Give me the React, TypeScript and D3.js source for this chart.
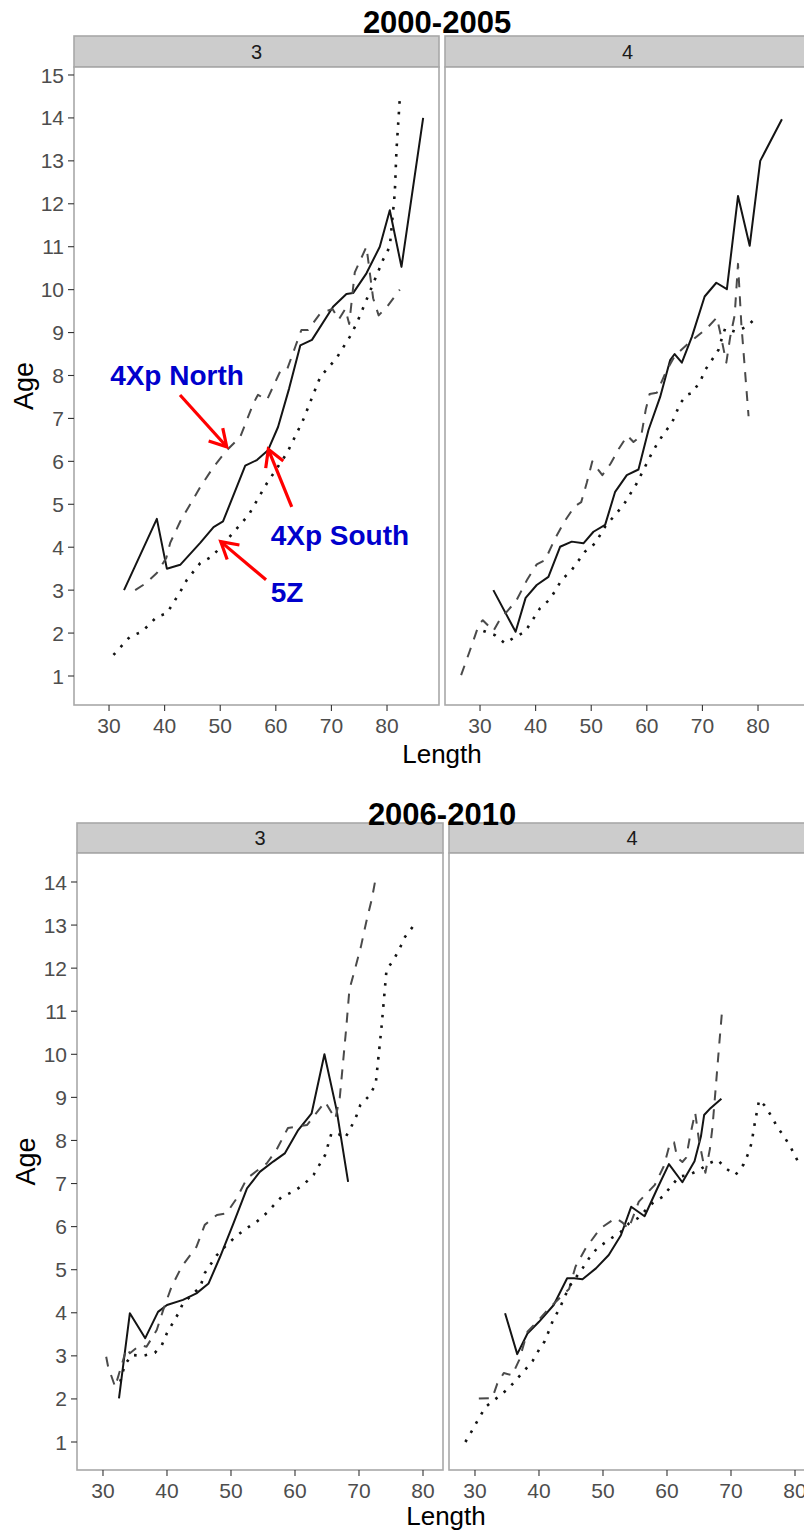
import React from "react";
import * as d3 from "d3";

type Pt = [number, number]; // [length, age]

// ---- data: mean age at length, by period, area and stock ----
const periods = ["2000-2005", "2006-2010"];
const areas = ["3", "4"];
const stocks = ["4Xp South", "4Xp North", "5Z"];

// 2000-2005, area 3
const south0005a3: Pt[] = [[32.7,3.0],[38.6,4.66],[40.4,3.5],[42.8,3.59],[46.4,4.1],[48.8,4.47],[50.5,4.6],[54.5,5.9],[56.6,6.03],[58.6,6.26],[60.4,6.8],[62.4,7.7],[64.4,8.7],[66.5,8.83],[70.3,9.6],[72.7,9.9],[73.9,9.92],[76.3,10.38],[78.7,11.0],[80.5,11.85],[82.6,10.53],[86.5,14.0]];
const north0005a3: Pt[] = [[34.7,3.0],[36.5,3.15],[38.6,3.4],[40.3,3.75],[41,4.1],[42.8,4.6],[46.4,5.4],[48.8,5.87],[51.2,6.26],[53.6,6.57],[56,7.36],[56.8,7.55],[58.4,7.43],[60.8,8.1],[62,8.13],[63.5,8.67],[64.6,9.06],[65.8,9.06],[68,9.45],[70.2,9.55],[71.3,9.3],[72.5,9.55],[73.2,9.2],[74.2,10.4],[76.3,11.0],[77.5,9.8],[78.5,9.4],[80,9.6],[82.3,10.0]];
const z5_0005a3: Pt[] = [[30.8,1.49],[33.8,1.92],[35.9,2.03],[38.6,2.38],[40.4,2.46],[42.8,2.96],[44,3.24],[46.4,3.63],[48.5,3.78],[51.2,4.17],[55.1,4.75],[58.4,5.49],[62,6.19],[64.9,6.96],[68,7.97],[70.9,8.4],[73.3,8.9],[74.5,9.2],[76.3,9.76],[79.3,10.7],[80.5,11.0],[81.4,12.25],[81.7,13.25],[82.3,14.45]];

// 2000-2005, area 4
const south0005a4: Pt[] = [[32.4,3.0],[36.4,2.03],[38.2,2.82],[40.2,3.12],[42.3,3.31],[44.4,4.01],[46.5,4.13],[48.6,4.09],[50.4,4.36],[52.5,4.52],[54.3,5.29],[56.4,5.68],[58.5,5.81],[60.3,6.73],[62.4,7.5],[64.2,8.36],[65,8.5],[66.3,8.3],[68.1,8.9],[70.4,9.84],[72.5,10.16],[74.4,10.01],[76.4,12.18],[78.5,11.02],[80.4,13.0],[84.3,13.97]];
const north0005a4: Pt[] = [[26.6,1.02],[28.2,1.6],[29.8,2.2],[30.5,2.3],[32.4,2.05],[33.5,2.3],[36.5,2.75],[38.5,3.25],[40.2,3.6],[41.7,3.7],[43.5,4.2],[45.2,4.6],[47,4.95],[48.2,5.05],[49.2,5.5],[50.2,6.0],[51,5.85],[52,5.68],[53.5,5.95],[55,6.3],[56.5,6.6],[57.6,6.45],[59,6.6],[59.8,7.2],[60.5,7.57],[61.8,7.6],[63.5,8.1],[65,8.45],[67.5,8.75],[70.8,9.1],[72.6,9.35],[73.2,9.0],[74.3,8.3],[75,8.9],[75.8,9.4],[76.4,10.6],[77,9.2],[78.3,7.05]];
const z5_0005a4: Pt[] = [[30.6,2.05],[32.7,1.95],[34.5,1.76],[36.3,1.91],[38.1,2.03],[40.8,2.58],[42.6,2.79],[44.7,3.24],[46.5,3.47],[48.9,3.9],[50.7,4.09],[52.5,4.48],[55.8,4.98],[58.2,5.49],[60.9,6.19],[62.1,6.46],[63.3,6.69],[64.5,6.89],[66,7.35],[67.2,7.55],[68.1,7.59],[69.6,7.86],[70.5,8.13],[71.7,8.36],[72.9,8.6],[73.5,8.87],[74.1,9.1],[75.9,9.02],[78,9.14],[79.5,9.33]];

// 2006-2010, area 3
const south0610a3: Pt[] = [[32.5,2.01],[34.2,3.99],[36.6,3.41],[38.6,4.02],[40,4.18],[42.5,4.3],[44.6,4.45],[46.5,4.68],[48.3,5.3],[50.4,6.08],[52.5,6.89],[54.5,7.27],[56.6,7.51],[58.4,7.7],[60.5,8.24],[62.6,8.63],[64.6,10.0],[66.5,8.71],[68.3,7.04]];
const north0610a3: Pt[] = [[30.5,2.98],[30.8,2.75],[31.9,2.28],[33.7,3.18],[34.2,3.06],[35.8,3.25],[36.8,3.21],[38.4,3.6],[39.4,4.06],[40.7,4.6],[42.3,5.07],[44.6,5.53],[45.9,6.04],[47.8,6.27],[49.3,6.31],[50.9,6.66],[52.5,7.12],[55.6,7.47],[57.1,7.78],[58.9,8.29],[61.9,8.36],[64.7,8.9],[66.3,8.5],[67,9.0],[67.5,9.8],[68,10.6],[68.5,11.5],[69.5,12.05],[70.3,12.5],[71.1,13.05],[72,13.6],[72.5,14.0]];
const z5_0610a3: Pt[] = [[32.7,2.4],[33.4,2.79],[34.5,3.02],[36.3,3.0],[38.1,3.07],[39.2,3.25],[40,3.53],[41.8,3.99],[42.5,4.22],[45.2,4.6],[45.9,4.92],[47.8,5.34],[49.3,5.57],[50.6,5.75],[52.2,5.94],[54,6.11],[55.6,6.32],[57.9,6.69],[59.7,6.81],[61.3,6.97],[62.9,7.2],[64.7,7.66],[65.7,8.17],[66.8,8.15],[67.8,8.05],[68.8,8.32],[69.6,8.57],[70.2,8.82],[71.5,9.02],[72.6,9.3],[73.5,10.6],[74.3,11.96],[75.4,12.19],[76.4,12.47],[77.2,12.73],[78.4,12.96]];

// 2006-2010, area 4
const south0610a4: Pt[] = [[34.7,3.99],[36.6,3.04],[38.2,3.52],[40,3.79],[42.3,4.18],[44.4,4.8],[45.5,4.8],[46.8,4.78],[48.9,5.03],[50.9,5.34],[52.8,5.8],[54.4,6.46],[56.5,6.24],[58.5,6.89],[60.3,7.45],[62.4,7.03],[64.3,7.52],[65.3,8.09],[65.8,8.59],[66.8,8.75],[68.5,8.97]];
const north0610a4: Pt[] = [[30.6,2.01],[32.7,2.02],[33.5,2.36],[34.5,2.6],[35.8,2.55],[36.9,2.9],[38.2,3.56],[39.7,3.79],[41.8,4.14],[44.7,4.55],[45.7,5.07],[47.3,5.5],[49.6,5.96],[52,6.2],[53,6.1],[54,5.95],[55.6,6.58],[58.1,6.97],[59.5,7.4],[60.5,7.95],[61.1,7.96],[61.6,7.6],[62.4,7.5],[63,7.6],[63.6,8.1],[64.4,8.65],[65,8.0],[66,7.25],[66.7,7.8],[67.1,8.3],[67.6,9.2],[68.2,10.3],[68.6,11.0]];
const z5_0610a4: Pt[] = [[28.5,1.0],[29.6,1.28],[30.6,1.55],[31.7,1.82],[34,2.09],[35.3,2.25],[36.4,2.44],[37.8,2.67],[39,2.88],[40,3.14],[40.9,3.34],[41.6,3.6],[42.3,3.87],[43.1,4.06],[44.7,4.6],[46.8,5.03],[47.8,5.26],[49.1,5.5],[50.9,5.69],[52.8,5.88],[54.1,6.08],[55.4,6.19],[57.7,6.54],[59.3,6.69],[60.6,6.93],[61.9,7.16],[63.4,7.2],[65,7.31],[66.6,7.47],[67.9,7.55],[69.2,7.35],[70.7,7.2],[72,7.45],[72.7,7.7],[73.2,7.93],[73.75,8.43],[74.4,8.94],[75.2,8.82],[76.2,8.59],[77.2,8.32],[78.3,8.09],[79.3,7.85],[80.5,7.5]];

const lengthTicks = [30, 40, 50, 60, 70, 80];
const ageTicks0005 = [1,2,3,4,5,6,7,8,9,10,11,12,13,14,15];
const ageTicks0610 = [1,2,3,4,5,6,7,8,9,10,11,12,13,14];

// stock labels with arrows, in data units of 2000-2005 / area 3
const labelText = ["4Xp North", "4Xp South", "5Z"];
const labelAt: Pt[] = [[30.2, 7.78], [59.08, 4.05], [59.08, 2.73]];
const arrowFrom: Pt[] = [[42.77, 7.545], [62.86, 4.94], [58.24, 3.24]];
const arrowTo: Pt[] = [[51.17, 6.34], [58.65, 6.28], [50.09, 4.13]];

const seriesByPeriod: Pt[][][] = [
  [[south0005a3, north0005a3, z5_0005a3], [south0005a4, north0005a4, z5_0005a4]],
  [[south0610a3, north0610a3, z5_0610a3], [south0610a4, north0610a4, z5_0610a4]],
];

// ---- presentation ----
const FONT = "'Liberation Sans', Arial, Helvetica, sans-serif";
const lineStyle: Record<string, { stroke: string; width: number; dash?: string }> = {
  "4Xp South": { stroke: "#141414", width: 2 },
  "4Xp North": { stroke: "#4a4a4a", width: 2, dash: "10 9" },
  "5Z": { stroke: "#141414", width: 2.6, dash: "2.6 8" },
};

const layouts = [
  {
    titleX: 437, titleY: 33, stripTop: 36, top: 67, bottom: 705,
    facetX: [[74, 439], [445, 810]], xDomain: [23.7, 89.35], yDomain: [0.3245, 15.186],
    ageTicks: ageTicks0005, lengthX: 442, lengthY: 763, ageX: 33,
  },
  {
    titleX: 442, titleY: 825, stripTop: 823, top: 853, bottom: 1470,
    facetX: [[77, 443], [449, 815]], xDomain: [25.94, 83.125], yDomain: [0.35, 14.673],
    ageTicks: ageTicks0610, lengthX: 446, lengthY: 1525, ageX: 35,
  },
];

const BORDER = "#a8a8a8";
const TICK_TEXT = "#4d4d4d";

function arrowHead(x1: number, y1: number, x2: number, y2: number, len: number, ang: number) {
  const a = Math.atan2(y1 - y2, x1 - x2);
  const p1 = [x2 + len * Math.cos(a + ang), y2 + len * Math.sin(a + ang)];
  const p2 = [x2 + len * Math.cos(a - ang), y2 + len * Math.sin(a - ang)];
  return `M${p1[0]},${p1[1]}L${x2},${y2}L${p2[0]},${p2[1]}`;
}

function PeriodPanel({ pi }: { pi: number }) {
  const L = layouts[pi];
  const y = d3.scaleLinear().domain(L.yDomain).range([L.bottom, L.top]);
  const leftX = L.facetX[0][0];

  return (
    <g>
      {areas.map((area, fi) => {
        const [x0, x1] = L.facetX[fi];
        const x = d3.scaleLinear().domain(L.xDomain).range([x0, x1]);
        const line = d3.line<Pt>().x((d) => x(d[0])).y((d) => y(d[1]));
        return (
          <g key={area}>
            {/* strip */}
            <rect x={x0} y={L.stripTop} width={x1 - x0} height={L.top - L.stripTop}
              fill="#cccccc" stroke={BORDER} strokeWidth={1.6} />
            <text x={(x0 + x1) / 2} y={(L.stripTop + L.top) / 2} dy="0.36em" textAnchor="middle"
              fontFamily={FONT} fontSize={20} fill="#1a1a1a">{area}</text>
            {/* panel */}
            <rect x={x0} y={L.top} width={x1 - x0} height={L.bottom - L.top}
              fill="#ffffff" stroke={BORDER} strokeWidth={1.6} />
            {/* series */}
            {stocks.map((s, si) => {
              const st = lineStyle[s];
              return (
                <path key={s} d={line(seriesByPeriod[pi][fi][si]) || ""} fill="none"
                  stroke={st.stroke} strokeWidth={st.width} strokeDasharray={st.dash}
                  strokeLinejoin="round" strokeLinecap="butt" />
              );
            })}
            {/* x axis */}
            {lengthTicks.map((t) => (
              <g key={t}>
                <line x1={x(t)} x2={x(t)} y1={L.bottom} y2={L.bottom + 6} stroke="#333" strokeWidth={1.1} />
                <text x={x(t)} y={L.bottom + 28} textAnchor="middle" fontFamily={FONT}
                  fontSize={21} fill={TICK_TEXT}>{t}</text>
              </g>
            ))}
            {/* stock labels */}
            {pi === 0 && fi === 0 && labelText.map((lab, k) => {
              const xa = x(arrowFrom[k][0]), ya = y(arrowFrom[k][1]);
              const xb = x(arrowTo[k][0]), yb = y(arrowTo[k][1]);
              return (
                <g key={lab}>
                  <text x={x(labelAt[k][0])} y={y(labelAt[k][1])} fontFamily={FONT} fontWeight="bold"
                    fontSize={28} fill="#0000cc">{lab}</text>
                  <line x1={xa} y1={ya} x2={xb} y2={yb} stroke="#ff0000" strokeWidth={3.2} />
                  <path d={arrowHead(xa, ya, xb, yb, 19, Math.PI / 6)} fill="none"
                    stroke="#ff0000" strokeWidth={3.2} strokeLinejoin="miter" />
                </g>
              );
            })}
          </g>
        );
      })}
      {/* y axis on the left facet */}
      {L.ageTicks.map((t) => (
        <g key={t}>
          <line x1={leftX - 6} x2={leftX} y1={y(t)} y2={y(t)} stroke="#333" strokeWidth={1.1} />
          <text x={leftX - 10} y={y(t)} dy="0.36em" textAnchor="end" fontFamily={FONT}
            fontSize={21} fill={TICK_TEXT}>{t}</text>
        </g>
      ))}
      {/* axis titles */}
      <text x={L.lengthX} y={L.lengthY} textAnchor="middle" fontFamily={FONT} fontSize={26} fill="#000">Length</text>
      <text transform={`translate(${L.ageX},${(L.top + L.bottom) / 2}) rotate(-90)`} textAnchor="middle"
        fontFamily={FONT} fontSize={27} fill="#000">Age</text>
      {/* period title */}
      <text x={L.titleX} y={L.titleY} textAnchor="middle" fontFamily={FONT} fontWeight="bold"
        fontSize={31} fill="#000">{periods[pi]}</text>
    </g>
  );
}

export default function App() {
  return (
    <svg width={804} height={1532} viewBox="0 0 804 1532"
      style={{ position: "absolute", left: 0, top: 0, display: "block", background: "#ffffff" }}>
      <rect x={0} y={0} width={804} height={1532} fill="#ffffff" />
      <PeriodPanel pi={0} />
      <PeriodPanel pi={1} />
    </svg>
  );
}
